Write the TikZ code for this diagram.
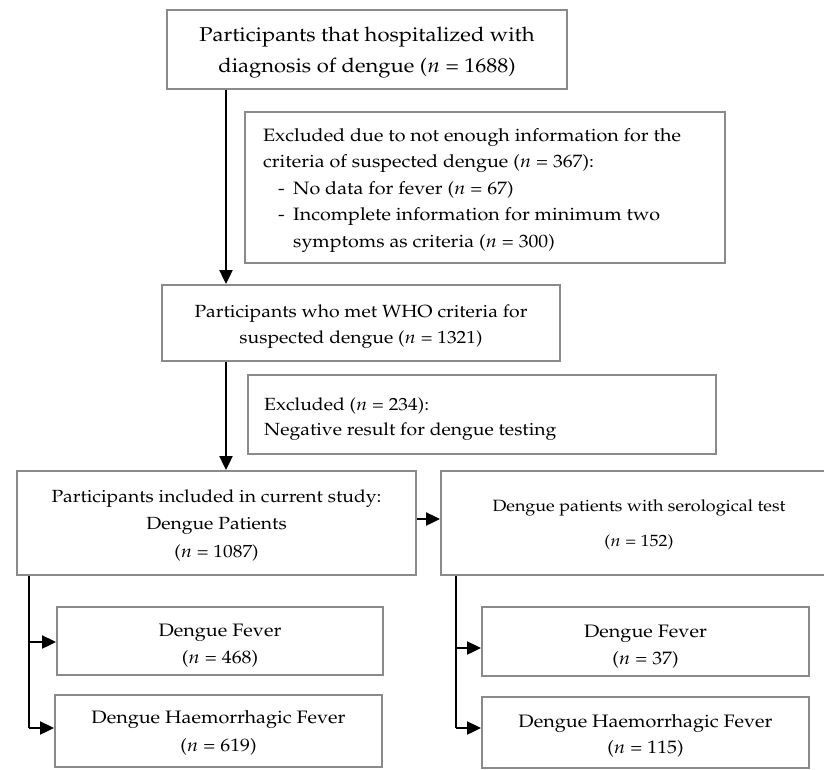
\documentclass[tikz,border=0pt]{standalone}
\usepackage[T1]{fontenc}
\usepackage{mathpazo}
\usepackage{graphicx}
\usetikzlibrary{arrows.meta}
\newcommand\sxt[1]{\scalebox{1.1}[1]{#1}}
\definecolor{boxgray}{HTML}{8A8A8A}
\tikzset{
  box/.style={draw=boxgray, line width=2pt, inner sep=0pt, rectangle},
  ctxt/.style={inner sep=0pt, align=center},
  ltxt/.style={inner sep=0pt, align=left, anchor=west},
  arr/.style={draw=black, line width=2.4pt, -{Triangle[length=14pt,width=13pt]}},
  ln/.style={draw=black, line width=2.4pt},
}
\begin{document}
\begin{tikzpicture}[x=1pt,y=-1pt]
\useasboundingbox (0,0) rectangle (824,770);
\fill[white] (0,0) rectangle (824,770);

% boxes
\node[box, minimum width=400pt, minimum height=79pt]  (top)  at (367,49.5) {};
\node[box, minimum width=480pt, minimum height=151pt] (ex1)  at (485,187.5) {};
\node[box, minimum width=398pt, minimum height=76pt]  (met)  at (361,323) {};
\node[box, minimum width=468pt, minimum height=79pt]  (ex2)  at (482,414.5) {};
\node[box, minimum width=399pt, minimum height=104pt] (inc)  at (216.5,523) {};
\node[box, minimum width=396pt, minimum height=104pt] (ser)  at (639,523) {};
\node[box, minimum width=326pt, minimum height=68pt]  (dfl)  at (220,641) {};
\node[box, minimum width=327pt, minimum height=72pt]  (dhfl) at (218.5,731) {};
\node[box, minimum width=327pt, minimum height=69pt]  (dfr)  at (645.5,641.5) {};
\node[box, minimum width=327pt, minimum height=71pt]  (dhfr) at (645.5,732.5) {};

% texts
\node[ctxt, font=\fontsize{20}{31}\selectfont] (toptx) at ([yshift=-3pt]top.center)
  {\sxt{Participants that hospitalized with}\\\sxt{diagnosis of dengue ($n$ = 1688)}};

\node[ltxt, font=\fontsize{17.9}{26.5}\selectfont] (ex1tx) at ([xshift=19pt,yshift=-3pt]ex1.west)
  {\sxt{Excluded due to not enough information for the}\\
   \sxt{criteria of suspected dengue ($n$ = 367):}\\
   \hspace*{15pt}\makebox[15pt][l]{\sxt{-}}\sxt{No data for fever ($n$ = 67)}\\
   \hspace*{15pt}\makebox[15pt][l]{\sxt{-}}\sxt{Incomplete information for minimum two}\\
   \hspace*{30pt}\sxt{symptoms as criteria ($n$ = 300)}};

\node[ctxt, font=\fontsize{17.6}{26}\selectfont] (mettx) at ([yshift=-4pt]met.center)
  {\sxt{Participants who met WHO criteria for}\\\sxt{suspected dengue ($n$ = 1321)}};

\node[ltxt, font=\fontsize{17.6}{25.5}\selectfont] (ex2tx) at ([xshift=17pt,yshift=-4.5pt]ex2.west)
  {\sxt{Excluded ($n$ = 234):}\\\sxt{Negative result for dengue testing}};

\node[ctxt, font=\fontsize{17.6}{27.5}\selectfont] (inctx) at ([yshift=-2pt]inc.center)
  {\sxt{Participants included in current study:}\\\sxt{Dengue Patients}\\\sxt{($n$ = 1087)}};

\node[ctxt, font=\fontsize{16.3}{35}\selectfont] (sertx) at ([yshift=-2pt]ser.center)
  {\sxt{Dengue patients with serological test}\\\sxt{($n$ = 152)}};

\node[ctxt, font=\fontsize{18}{27}\selectfont] (dfltx) at ([yshift=-5pt]dfl.center)
  {\sxt{Dengue Fever}\\\sxt{($n$ = 468)}};
\node[ctxt, font=\fontsize{18}{28}\selectfont] (dhfltx) at ([yshift=-2pt]dhfl.center)
  {\sxt{Dengue Haemorrhagic Fever}\\\sxt{($n$ = 619)}};
\node[ctxt, font=\fontsize{18}{27}\selectfont] (dfrtx) at ([yshift=-5pt]dfr.center)
  {\sxt{Dengue Fever}\\\sxt{($n$ = 37)}};
\node[ctxt, font=\fontsize{18}{26}\selectfont] (dhfrtx) at ([yshift=-3pt]dhfr.center)
  {\sxt{Dengue Haemorrhagic Fever}\\\sxt{($n$ = 115)}};

% connectors
\coordinate (ax) at (226,0);
\coordinate (bl) at (29,0);
\coordinate (br) at (456,0);
\coordinate (hy) at (0,519);
\coordinate (y1) at (0,642);
\coordinate (y2) at (0,728);
\coordinate (y3) at (0,648);

\draw[arr] (top.south -| ax) -- (met.north -| ax);
\draw[arr] (met.south -| ax) -- (inc.north -| ax);
\draw[arr] (inc.east |- hy) -- (ser.west |- hy);

\draw[ln] (inc.south -| bl) -- (bl |- y2);
\draw[arr] (bl |- y1) -- (dfl.west |- y1);
\draw[arr] (bl |- y2) -- (dhfl.west |- y2);

\draw[ln] (ser.south -| br) -- (br |- y2);
\draw[arr] (br |- y3) -- (dfr.west |- y3);
\draw[arr] (br |- y2) -- (dhfr.west |- y2);
\end{tikzpicture}
\end{document}
